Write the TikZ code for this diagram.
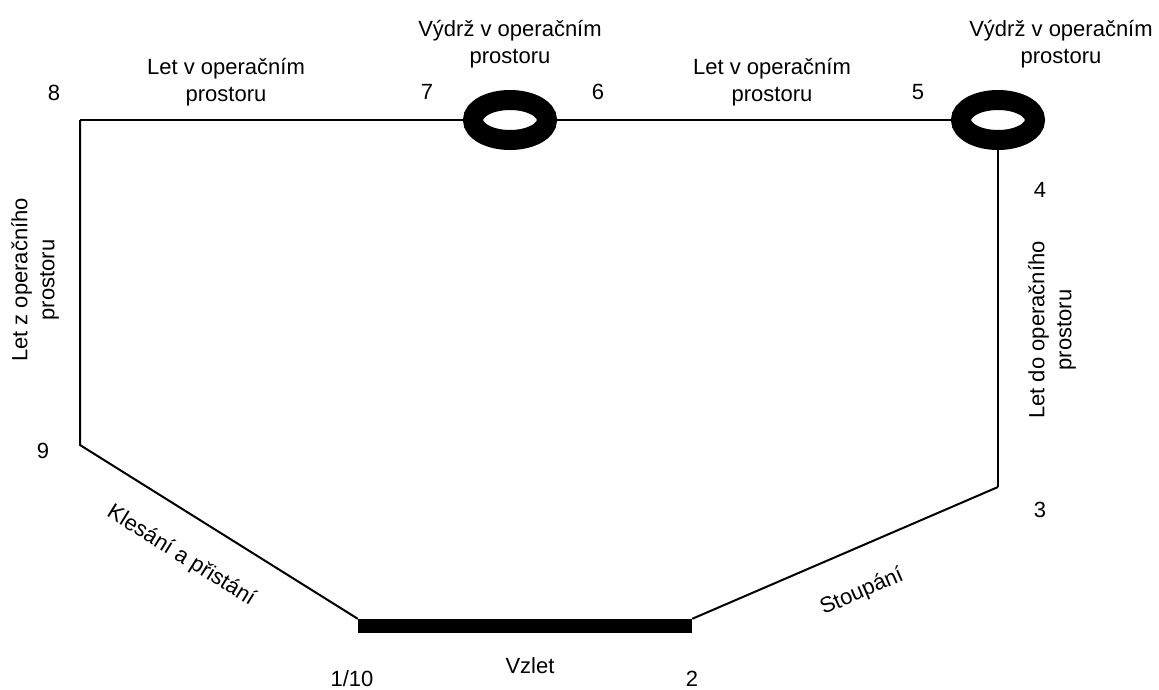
\documentclass[tikz,border=0pt]{standalone}
\usepackage{fontspec}
\setmainfont{Liberation Sans}
\usetikzlibrary{shapes.geometric}
\begin{document}
\begin{tikzpicture}[x=1pt,y=-1pt,
  lbl/.style={inner sep=0pt,align=center,font=\fontsize{22}{27}\selectfont},
  num/.style={inner sep=0pt,anchor=base,font=\fontsize{22}{27}\selectfont},
  leg/.style={line width=2pt},
  hold/.style={ellipse,draw,fill=white,line width=20pt,minimum width=74pt,minimum height=40pt,inner sep=0pt},
  runway/.style={rectangle,fill=black,minimum width=334pt,minimum height=14pt,inner sep=0pt}]
\useasboundingbox (0,0) rectangle (1159,689);

% track corners
\coordinate (p8) at (80,120);
\coordinate (p9) at (80,445);
\coordinate (p3) at (998,487);

% holding patterns and runway
\node[runway] (rw) at (525,626) {};
\draw[leg] (p8) -- (p9) -- (rw.north west);
\draw[leg] (rw.north east) -- (p3);
\node[hold] (h1) at (510,120) {};
\node[hold] (h2) at (998,120) {};
\draw[leg] (p8) -- (h1.west);
\draw[leg] (h1.east) -- (h2.west);
\draw[leg] (h2.south) -- (p3);

% waypoint numbers
\node[num] (n8) at (54,100) {8};
\node[num] (n7) at (427,99) {7};
\node[num] (n6) at (598,99) {6};
\node[num] (n5) at (918,99) {5};
\node[num] (n4) at (1040,197) {4};
\node[num] (n3) at (1040,517) {3};
\node[num] (n2) at (692,686) {2};
\node[num] (n1) at (352,686) {1/10};
\node[num] (n9) at (43,458) {9};

% segment names
\node[lbl] (t1) at (226,82) {Let v operačním\\prostoru};
\node[lbl] (t2) at (510,44) {Výdrž v operačním\\prostoru};
\node[lbl] (t3) at (772,82) {Let v operačním\\prostoru};
\node[lbl] (t4) at (1061,44) {Výdrž v operačním\\prostoru};
\node[lbl,rotate=90] (t5) at (35,280) {Let z operačního\\prostoru};
\node[lbl,rotate=90] (t6) at (1052,330) {Let do operačního\\prostoru};
\node[lbl,rotate=-32] (t7) at (181,556) {Klesání a přistání};
\node[lbl,rotate=23.6] (t8) at (862,592) {Stoupání};
\node[num] (t9) at (530,673) {Vzlet};
\end{tikzpicture}
\end{document}
